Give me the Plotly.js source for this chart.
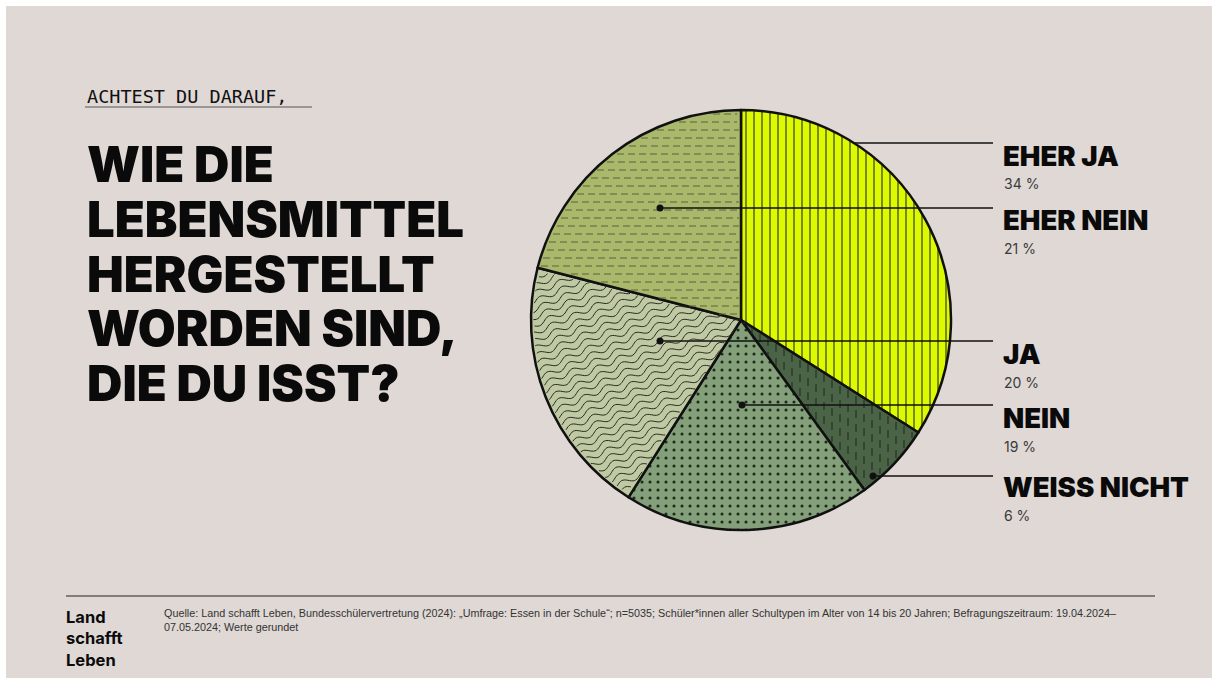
<!DOCTYPE html>
<html>
<head>
<meta charset="utf-8">
<script src="https://cdn.plot.ly/plotly-3.0.1.min.js"></script>
<style>
  html, body { margin: 0; padding: 0; background: #ffffff; }
  #chart { position: absolute; left: 6px; top: 6px; width: 1206px; height: 672px; }
</style>
</head>
<body>
<div id="chart"></div>
<script>
// ---- data ----
const categories = ["EHER JA", "WEISS NICHT", "NEIN", "JA", "EHER NEIN"];
const values = [34, 6, 19, 20, 21];
const labelOrder = ["EHER JA", "EHER NEIN", "JA", "NEIN", "WEISS NICHT"];
const kicker = "ACHTEST DU DARAUF,";
const titleLines = ["WIE DIE", "LEBENSMITTEL", "HERGESTELLT", "WORDEN SIND,", "DIE DU ISST?"];
const logoLines = ["Land", "schafft", "Leben"];
const sourceLines = [
  "Quelle: Land schafft Leben, Bundesschülervertretung (2024): „Umfrage: Essen in der Schule“; n=5035; Schüler*innen aller Schultypen im Alter von 14 bis 20 Jahren; Befragungszeitraum: 19.04.2024–",
  "07.05.2024; Werte gerundet"
];

// ---- styles ----
const W = 1206, H = 672, OFF = 6;
const px = x => (x - OFF) / W;
const py = y => 1 - (y - OFF) / H;
const BG = "#dfd8d5";
const sliceColors = ["#dcfa00", "#4b6447", "#84a07a", "#bfc9a3", "#a9b86b"];
const patShapes = ["|", "", ".", "", ""];
const patFg = ["#111111", "#22301f", "#1e2a1b", "#2a2f22", "#5a6040"];
const patSol = [0.12, 0.12, 0.12, 0.1, 0.12];
const CX = 741, CY = 320, R = 210;
const rows = {
  "EHER JA":     {cy: 155, ly: 143, dot: null},
  "EHER NEIN":   {cy: 219, ly: 208, dot: 660},
  "JA":          {cy: 353, ly: 341, dot: 660},
  "NEIN":        {cy: 417, ly: 405, dot: 742},
  "WEISS NICHT": {cy: 486, ly: 476, dot: 873}
};
const TITLE_FONT = "Inter, Roboto, 'Liberation Sans', sans-serif";
const TEXT_FONT = "Inter, 'Liberation Sans', sans-serif";

const trace = {
  type: "pie",
  labels: categories,
  values: values,
  sort: false,
  direction: "clockwise",
  rotation: 0,
  textinfo: "none",
  hoverinfo: "label+percent",
  showlegend: false,
  domain: {x: [px(CX - R), px(CX + R)], y: [py(CY + R), py(CY - R)]},
  marker: {
    colors: sliceColors,
    line: {color: "#111111", width: 2.5},
    pattern: {
      shape: patShapes,
      fgcolor: patFg,
      bgcolor: sliceColors,
      size: 8,
      solidity: patSol,
      fillmode: "replace"
    }
  }
};

const annotations = [];
const hatchShapes = [];
const shapes = [];

// ---- hatch overlays clipped to a slice (angles from the values) ----
const total = values.reduce((a, b) => a + b, 0);
function sliceRange(name) {
  const i = categories.indexOf(name);
  let s = 0;
  for (let k = 0; k < i; k++) s += values[k];
  return [s / total * 360, (s + values[i]) / total * 360];
}
function inside(x, y, a0, a1) {
  const dx = x - CX, dy = y - CY;
  const r = Math.sqrt(dx * dx + dy * dy);
  if (r > R - 2) return false;
  let a = Math.atan2(dx, -dy) * 180 / Math.PI;
  if (a < 0) a += 360;
  return a > a0 + 0.6 && a < a1 - 0.6;
}
function addClipped(points, a0, a1, line) {
  let seg = [];
  const flush = () => {
    if (seg.length > 1) {
      const d = seg.map((p, j) => (j ? "L" : "M") + px(p[0]).toFixed(5) + "," + py(p[1]).toFixed(5)).join(" ");
      hatchShapes.push({type: "path", xref: "paper", yref: "paper", path: d, line: line, layer: "above"});
    }
    seg = [];
  };
  points.forEach(p => {
    if (inside(p[0], p[1], a0, a1)) seg.push(p); else flush();
  });
  flush();
}
// JA: wavy lines
(function () {
  const [a0, a1] = sliceRange("JA");
  const ang = -24 * Math.PI / 180;
  const ux = Math.cos(ang), uy = Math.sin(ang);
  const nx = -uy, ny = ux;
  for (let k = -45; k <= 45; k++) {
    const pts = [];
    for (let t = -260; t <= 260; t += 1.5) {
      const w = 2.6 * Math.sin(2 * Math.PI * t / 24);
      pts.push([CX + t * ux + (k * 7.2 + w) * nx, CY + t * uy + (k * 7.2 + w) * ny]);
    }
    addClipped(pts, a0, a1, {color: "#262b1e", width: 1});
  }
})();
// EHER NEIN: dashed horizontal lines
(function () {
  const [a0, a1] = sliceRange("EHER NEIN");
  for (let y = CY - R + 4; y <= CY; y += 8) {
    const pts = [];
    for (let x = CX - R; x <= CX; x += 2) pts.push([x, y]);
    addClipped(pts, a0, a1, {color: "#5c6242", width: 1.2, dash: "7px,4px"});
  }
})();
// WEISS NICHT: dashed vertical lines
(function () {
  const [a0, a1] = sliceRange("WEISS NICHT");
  for (let x = CX + 3; x <= CX + R; x += 8) {
    const pts = [];
    for (let y = CY; y <= CY + R; y += 2) pts.push([x, y]);
    addClipped(pts, a0, a1, {color: "#25331f", width: 1.2, dash: "8px,6px"});
  }
})();

// kicker
annotations.push({x: px(85), y: py(97), xref: "paper", yref: "paper", xanchor: "left", yanchor: "middle",
  text: kicker, showarrow: false, font: {family: "'DejaVu Sans Mono', 'Liberation Mono', monospace", size: 18.5, color: "#111"}});
shapes.push({type: "line", xref: "paper", yref: "paper", x0: px(85), x1: px(312), y0: py(107), y1: py(107),
  line: {color: "#555", width: 1}});

// title
titleLines.forEach((t, i) => {
  annotations.push({x: px(85), y: py(165 + i * 54.5), xref: "paper", yref: "paper", xanchor: "left", yanchor: "middle",
    text: t, showarrow: false, font: {family: TITLE_FONT, size: 49, weight: 900, color: "#0a0a0a"}});
});

// right labels + leader lines
labelOrder.forEach(name => {
  const r = rows[name];
  const v = values[categories.indexOf(name)];
  annotations.push({x: px(1001), y: py(r.cy + 1), xref: "paper", yref: "paper", xanchor: "left", yanchor: "middle",
    text: name, showarrow: false, font: {family: TITLE_FONT, size: 27.5, weight: 900, color: "#0a0a0a"}});
  annotations.push({x: px(1002), y: py(r.cy + 29), xref: "paper", yref: "paper", xanchor: "left", yanchor: "middle",
    text: v + " %", showarrow: false, font: {family: TEXT_FONT, size: 14, color: "#3a3a3a"}});
  let x0;
  if (r.dot === null) {
    const dy = r.ly - CY;
    x0 = CX + Math.sqrt(R * R - dy * dy);
  } else {
    x0 = r.dot;
    shapes.push({type: "circle", xref: "paper", yref: "paper",
      x0: px(x0 - 3.5), x1: px(x0 + 3.5), y0: py(r.ly + 3.5), y1: py(r.ly - 3.5),
      fillcolor: "#111", line: {width: 0}});
  }
  shapes.push({type: "line", xref: "paper", yref: "paper", x0: px(x0), x1: px(993), y0: py(r.ly), y1: py(r.ly),
    line: {color: "#111", width: 1.5}});
});

// footer
shapes.push({type: "line", xref: "paper", yref: "paper", x0: px(66), x1: px(1155), y0: py(596), y1: py(596),
  line: {color: "#222", width: 1}});
annotations.push({x: px(64), y: py(605), xref: "paper", yref: "paper", xanchor: "left", yanchor: "top",
  align: "left", text: logoLines.map(s => "<b>" + s + "</b>").join("<br>"), showarrow: false,
  font: {family: TEXT_FONT, size: 16.5, color: "#0a0a0a"}});
sourceLines.forEach((t, i) => {
  annotations.push({x: px(162), y: py(613 + i * 14), xref: "paper", yref: "paper", xanchor: "left", yanchor: "middle",
    text: t, showarrow: false, font: {family: "'Liberation Sans', sans-serif", size: 10.8, color: "#333"}});
});

const layout = {
  width: W, height: H,
  margin: {l: 0, r: 0, t: 0, b: 0},
  paper_bgcolor: BG,
  plot_bgcolor: BG,
  showlegend: false,
  annotations: annotations,
  shapes: hatchShapes.concat(shapes)
};

Plotly.newPlot("chart", [trace], layout, {displayModeBar: false, responsive: false});
</script>
</body>
</html>
